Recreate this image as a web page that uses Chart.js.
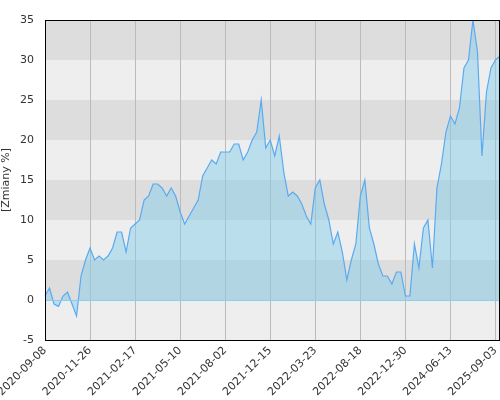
<!DOCTYPE html>
<html><head><meta charset="utf-8">
<script src="https://cdn.jsdelivr.net/npm/chart.js@4/dist/chart.umd.min.js"></script>
<style>html,body{margin:0;padding:0;background:#fff;overflow:hidden}</style>
</head><body><canvas id="c" width="500" height="400" style="width:500px;height:400px;display:block"></canvas>
<script>
const tickLabels=["2020-09-08","2020-11-26","2021-02-17","2021-05-10","2021-08-02","2021-12-15","2022-03-23","2022-08-18","2022-12-30","2024-06-13","2025-09-03"];
const values=[0.5,1.5,-0.5,-0.8,0.5,1,-0.5,-2,3,5,6.5,5,5.5,5,5.5,6.5,8.5,8.5,6,9,9.5,10,12.5,13,14.5,14.5,14,13,14,13,11,9.5,10.5,11.5,12.5,15.5,16.5,17.5,17,18.5,18.5,18.5,19.5,19.5,17.5,18.5,20,21,25,19,20,18,20.5,16,13,13.5,13,12,10.5,9.5,14,15,12,10,7,8.5,6,2.5,5,7,13,15,9,7,4.5,3,3,2,3.5,3.5,0.5,0.5,7,4,9,10,4,14,17,21,23,22,24,29,30,35,31,18,26,29,30,30.5];
const labels=values.map((v,i)=>i%10===0?tickLabels[i/10]:"");
const bands={id:'bands',beforeDraw(ch){const {ctx,chartArea:a,scales:{y}}=ch;ctx.save();for(let v=-5;v<35;v+=5){const t=y.getPixelForValue(v+5),b=y.getPixelForValue(v);ctx.fillStyle=(v>=0&&(v/5)%2===0)?'#dddddd':'#eeeeee';ctx.fillRect(a.left,t,a.right-a.left,b-t);}ctx.restore();},
afterDatasetsDraw(ch){const {ctx,chartArea:a,scales:{y}}=ch;ctx.save();const z=Math.round(y.getPixelForValue(0))+0.5;ctx.strokeStyle='#87cef0';ctx.lineWidth=1;ctx.beginPath();ctx.moveTo(a.left,z);ctx.lineTo(a.right,z);ctx.stroke();ctx.strokeStyle='#000';ctx.strokeRect(Math.round(a.left)+0.5,Math.round(a.top)+0.5,Math.round(a.right-a.left)-1,Math.round(a.bottom-a.top));ctx.restore();}};
new Chart(document.getElementById('c'),{type:'line',
data:{labels,datasets:[{data:values,borderColor:'#5aaaf0',borderWidth:1.2,pointRadius:0,tension:0,fill:{target:'origin',above:'rgba(135,206,235,0.5)',below:'rgba(135,206,235,0.5)'}}]},
options:{responsive:false,animation:false,
layout:{padding:{top:20,right:0,left:0,bottom:0}},
plugins:{legend:{display:false},tooltip:{enabled:false}},
scales:{
x:{offset:false,grid:{color:c=>c.index%10===0?'#bbbbbb':'transparent',drawTicks:false},border:{display:false},
ticks:{autoSkip:false,maxRotation:45,minRotation:45,padding:4,color:'#333',font:{family:'DejaVu Sans',size:11},callback:(v,i)=>labels[i]},afterFit(s){s.height=60;s.paddingRight=0;s.paddingLeft=0;}},
y:{min:-5,max:35,grid:{display:false},border:{display:false},ticks:{stepSize:5,color:'#333',font:{family:'DejaVu Sans',size:11}},
title:{display:true,text:'[Zmiany %]',color:'#333',font:{family:'DejaVu Sans',size:11},padding:0},afterFit(s){s.width=45;}}
}},plugins:[bands]});
</script></body></html>
